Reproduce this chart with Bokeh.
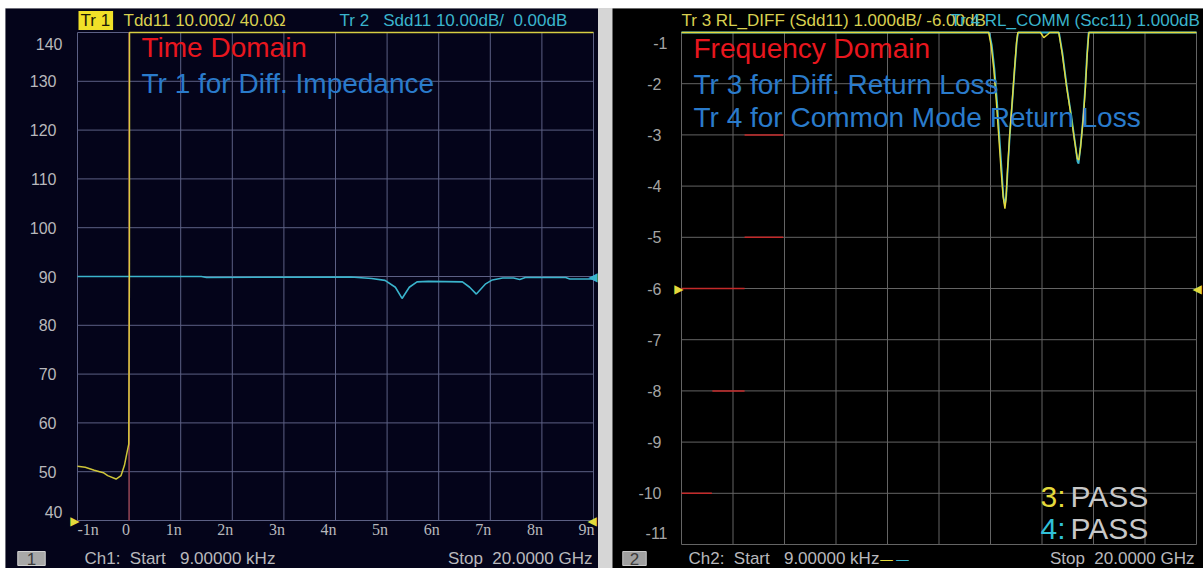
from bokeh.plotting import figure
from bokeh.models import FixedTicker, Label, Range1d, LinearAxis
from bokeh.layouts import row
from bokeh.embed import file_html
from bokeh.resources import INLINE

# ---------------- data ----------------
# Channel 1 : time domain (x in ns, y in ohm)
left_x_ticks = [-1, 0, 1, 2, 3, 4, 5, 6, 7, 8, 9]
left_x_labels = ["-1n", "0", "1n", "2n", "3n", "4n", "5n", "6n", "7n", "8n", "9n"]
left_y_ticks = [40, 50, 60, 70, 80, 90, 100, 110, 120, 130, 140]
left_y_labels = ["40", "50", "60", "70", "80", "90", "100", "110", "120", "130", "140"]

tdd11_t = [-1.0, -0.85, -0.675, -0.5, -0.415, -0.253, -0.156, -0.09, -0.045, -0.006, 0.006, 0.008, 9.0]
tdd11_z = [51.1, 50.9, 50.3, 49.8, 49.2, 48.5, 49.2, 51.3, 53.7, 55.7, 92.8, 140.0, 140.0]

sdd11_t = [-1.0, 1.4, 1.5, 4.3, 4.7, 4.96, 5.16, 5.29, 5.43, 5.58, 5.8, 6.46, 6.60, 6.73,
           6.91, 7.04, 7.24, 7.45, 7.57, 7.68, 8.46, 8.54, 9.0]
sdd11_z = [90.0, 90.0, 89.8, 89.9, 89.6, 89.2, 87.8, 85.5, 87.8, 88.9, 89.0, 88.9, 87.8, 86.4,
           88.5, 89.3, 89.7, 89.7, 89.4, 89.8, 89.8, 89.5, 89.5]

gate_t = [0.0]

# Channel 2 : frequency domain (x in GHz, y in dB)
right_x_ticks = [0, 2, 4, 6, 8, 10, 12, 14, 16, 18, 20]
right_y_ticks = [-11, -10, -9, -8, -7, -6, -5, -4, -3, -2, -1]
right_y_labels = ["-11", "-10", "-9", "-8", "-7", "-6", "-5", "-4", "-3", "-2", "-1"]

rl_diff_f = [0.0, 11.93, 12.03, 12.13, 12.23, 12.32, 12.41, 12.49, 12.56, 12.60, 12.66, 12.74,
             12.84, 12.93, 13.01, 13.06, 13.94, 14.07, 14.22, 14.3, 14.65, 14.78, 14.95, 15.11,
             15.26, 15.37, 15.43, 15.50, 15.60, 15.69, 15.76, 15.82, 20.0]
rl_diff_db = [-1.0, -1.0, -1.27, -1.73, -2.37, -3.03, -3.69, -4.21, -4.44, -4.27, -3.69, -3.03,
              -2.37, -1.73, -1.2, -1.0, -1.0, -1.1, -1.04, -1.0, -1.0, -1.4, -2.05, -2.57,
              -3.1, -3.46, -3.49, -3.23, -2.7, -2.05, -1.4, -1.0, -1.0]

rl_comm_f = [0.0, 11.95, 12.05, 12.15, 12.25, 12.34, 12.43, 12.50, 12.56, 12.61, 12.67, 12.75,
             12.85, 12.94, 13.02, 13.07, 14.66, 14.80, 14.97, 15.13, 15.28, 15.38, 15.42, 15.49,
             15.59, 15.68, 15.75, 15.81, 20.0]
rl_comm_db = [-1.0, -1.0, -1.25, -1.7, -2.33, -3.0, -3.66, -4.2, -4.36, -4.2, -3.66, -3.0,
              -2.33, -1.7, -1.18, -1.0, -1.0, -1.42, -2.08, -2.6, -3.14, -3.52, -3.56, -3.26,
              -2.72, -2.06, -1.42, -1.0, -1.0]

limit_f0 = [0.0, 1.2, 0.0, 2.45, 2.45]
limit_f1 = [1.18, 2.45, 2.45, 3.95, 3.95]
limit_db = [-10.0, -8.0, -6.0, -5.0, -3.0]

# ---------------- styles / layout ----------------
FONT = "Liberation Sans"
NAVY = "#04041a"
YEL = "#e4da3c"
YEL_TXT = "#d8d050"
CYAN = "#3ab4cc"
RED_TXT = "#e8161e"
BLUE_TXT = "#2a7bcb"
GRAY_TXT = "#b8b8bc"
SP = "\u00a0"

W1, W2, H = 593, 591, 560
# grid box inside each canvas: (left, right, top, bottom) borders in px
B1 = (72, 5, 24, 48)
B2 = (69, 7, 24, 24)


def ranges(w, h, b, x0, x1, y0, y1):
    gw = w - b[0] - b[1]
    gh = h - b[2] - b[3]
    sx = (x1 - x0) / gw
    sy = (y1 - y0) / gh
    return (Range1d(x0 - b[0] * sx, x1 + b[1] * sx), Range1d(y0 - b[3] * sy, y1 + b[2] * sy))


def lab(p, x, y, text, dx, dy, color, size="17px", align="left", baseline="middle",
        font=FONT, **kw):
    p.add_layout(Label(x=x, y=y, text=text, x_offset=dx, y_offset=dy, text_color=color,
                       text_font=font, text_font_size=size, text_align=align,
                       text_baseline=baseline, **kw))


def grid(p, xt, yt, color):
    n, m = len(xt), len(yt)
    p.segment(x0=xt, y0=[yt[0]] * n, x1=xt, y1=[yt[-1]] * n, line_color=color, line_width=1)
    p.segment(x0=[xt[0]] * m, y0=yt, x1=[xt[-1]] * m, y1=yt, line_color=color, line_width=1)


def yaxis(p, loc, ticks, labels, color, standoff):
    over = dict(zip(ticks, labels))
    over[ticks[0]] = ""
    over[ticks[-1]] = ""
    ax = LinearAxis(fixed_location=loc, ticker=FixedTicker(ticks=ticks),
                    major_label_overrides=over, axis_line_color=None,
                    major_tick_line_color=None, minor_tick_line_color=None,
                    major_label_text_font=FONT, major_label_text_font_size="16px",
                    major_label_text_color=color, major_label_standoff=standoff)
    p.add_layout(ax, "left")


# ---------------- left panel ----------------
xr1, yr1 = ranges(W1, H, B1, left_x_ticks[0], left_x_ticks[-1], left_y_ticks[0], left_y_ticks[-1])
p1 = figure(width=W1, height=H, x_range=xr1, y_range=yr1, x_axis_type=None, y_axis_type=None,
            output_backend="svg", toolbar_location=None, title=None,
            min_border=0, background_fill_color=NAVY, border_fill_color=NAVY,
            outline_line_color=None)
grid(p1, left_x_ticks, left_y_ticks, "#5c6084")
yaxis(p1, left_x_ticks[0], left_y_ticks, left_y_labels, GRAY_TXT, 15)

p1.segment(x0=gate_t, y0=[left_y_ticks[0]], x1=gate_t, y1=[left_y_ticks[-1]],
           line_color="#a03a44", line_width=1.2)
p1.line(sdd11_t, sdd11_z, line_color=CYAN, line_width=1.6)
p1.line(tdd11_t, tdd11_z, line_color=YEL, line_width=1.5, line_alpha=0.9)

# x tick labels (analyzer style: right aligned at the grid line, first one clamped)
p1.text(x=left_x_ticks[:1], y=[left_y_ticks[0]], text=left_x_labels[:1], x_offset=0, y_offset=9,
        text_color=GRAY_TXT, text_font=FONT, text_font_size="16px", text_align="left",
        text_baseline="middle")
p1.text(x=left_x_ticks[1:], y=[left_y_ticks[0]] * (len(left_x_ticks) - 1), text=left_x_labels[1:],
        x_offset=1, y_offset=9, text_color=GRAY_TXT, text_font=FONT, text_font_size="16px",
        text_align="right", text_baseline="middle")

# extreme y tick labels kept inside
lab(p1, left_x_ticks[0], left_y_ticks[-1], left_y_labels[-1], -15, -11, GRAY_TXT, "16px", "right")
lab(p1, left_x_ticks[0], left_y_ticks[0], left_y_labels[0], -15, 9, GRAY_TXT, "16px", "right")

# header
lab(p1, -1, 140, "Tr 1", 1, 12, "#1c1a08", background_fill_color="#f0e028",
    padding=dict(left=2, right=3, top=0, bottom=0))
lab(p1, -1, 140, "Tdd11 10.00\u03a9/ 40.0\u03a9", 46, 12, YEL_TXT)
lab(p1, -1, 140, "Tr 2" + SP * 3 + "Sdd11 10.00dB/" + SP * 2 + "0.00dB", 262, 12, CYAN)

# annotations
lab(p1, -1, 140, "Time Domain", 64, -15, RED_TXT, "28px")
lab(p1, -1, 140, "Tr 1 for Diff. Impedance", 64, -51, BLUE_TXT, "28px")

# markers
lab(p1, -1, 40, "\u25b6", 2, 0, YEL, "12px", "right", font="DejaVu Sans")
lab(p1, 9, 40, "\u25c0", -6, 0, YEL, "12px", "left", font="DejaVu Sans")
lab(p1, 9, 90, "\u25c0", -5, 0, CYAN, "12px", "left", font="DejaVu Sans")

# footer
lab(p1, -1, 40, "1", -46, -38, "#3c3c3c", "17px", "center",
    background_fill_color="#a8a8a8", border_line_color="#d0d0d0",
    padding=dict(left=9, right=9, top=1, bottom=1))
lab(p1, -1, 40, "Ch1:" + SP * 2 + "Start" + SP * 3 + "9.00000 kHz", 7, -38, GRAY_TXT)
lab(p1, 9, 40, "Stop" + SP * 2 + "20.0000 GHz", -1, -38, GRAY_TXT, "17px", "right")

# ---------------- right panel ----------------
xr2, yr2 = ranges(W2, H, B2, right_x_ticks[0], right_x_ticks[-1], right_y_ticks[0], right_y_ticks[-1])
p2 = figure(width=W2, height=H, x_range=xr2, y_range=yr2, x_axis_type=None, y_axis_type=None,
            output_backend="svg", toolbar_location=None, title=None,
            min_border=0, background_fill_color="#000000", border_fill_color="#000000",
            outline_line_color=None)
grid(p2, right_x_ticks, right_y_ticks, "#646464")
yaxis(p2, right_x_ticks[0], right_y_ticks, right_y_labels, "#a4a4a4", 14)

p2.segment(x0=limit_f0, y0=limit_db, x1=limit_f1, y1=limit_db, line_color="#c42a2a", line_width=1.5)
p2.line(rl_comm_f, rl_comm_db, line_color=CYAN, line_width=1.8)
p2.line(rl_diff_f, rl_diff_db, line_color=YEL, line_width=1.4)

lab(p2, 0, -1, right_y_labels[-1], -14, -10, "#a4a4a4", "16px", "right")
lab(p2, 0, -11, right_y_labels[0], -14, 12, "#a4a4a4", "16px", "right")

# header
lab(p2, 0, -1, "Tr 3 RL_DIFF (Sdd11) 1.000dB/ -6.00dB", 0, 12, YEL_TXT)
lab(p2, 0, -1, "Tr 4 RL_COMM (Scc11) 1.000dB", 269, 12, CYAN)

# annotations
lab(p2, 0, -1, "Frequency Domain", 12, -16, RED_TXT, "28px")
lab(p2, 0, -1, "Tr 3 for Diff. Return Loss", 12, -52, BLUE_TXT, "28px")
lab(p2, 0, -1, "Tr 4 for Common Mode Return Loss", 12, -85, BLUE_TXT, "28px")

lab(p2, 0, -11, "3:", 359, 48, YEL, "30px")
lab(p2, 0, -11, "PASS", 389, 48, "#c8c8c8", "30px")
lab(p2, 0, -11, "4:", 359, 16, "#30c0d8", "30px")
lab(p2, 0, -11, "PASS", 389, 16, "#c8c8c8", "30px")

# markers
lab(p2, 0, -6, "\u25b6", 2, 0, YEL, "12px", "right", font="DejaVu Sans")
lab(p2, 20, -6, "\u25c0", -4, 0, YEL, "12px", "left", font="DejaVu Sans")

# footer
lab(p2, 0, -11, "2", -47, -14, "#3c3c3c", "17px", "center",
    background_fill_color="#a0a0a0", border_line_color="#c8c8c8",
    padding=dict(left=7, right=7, top=1, bottom=1))
lab(p2, 0, -11, "Ch2:" + SP * 2 + "Start" + SP * 3 + "9.00000 kHz", 7, -14, GRAY_TXT)
lab(p2, 0, -11, "\u2014", 198, -14, YEL, "14px", font="DejaVu Sans")
lab(p2, 0, -11, "\u2014", 214, -14, CYAN, "14px", font="DejaVu Sans")
lab(p2, 20, -11, "Stop" + SP * 2 + "20.0000 GHz", -2, -14, GRAY_TXT, "17px", "right")

layout = row(p1, p2, spacing=14, margin=(8, 0, 0, 5), styles={"background-color": "#d6d6d6"})

open("out.html", "w").write(file_html(layout, INLINE))
